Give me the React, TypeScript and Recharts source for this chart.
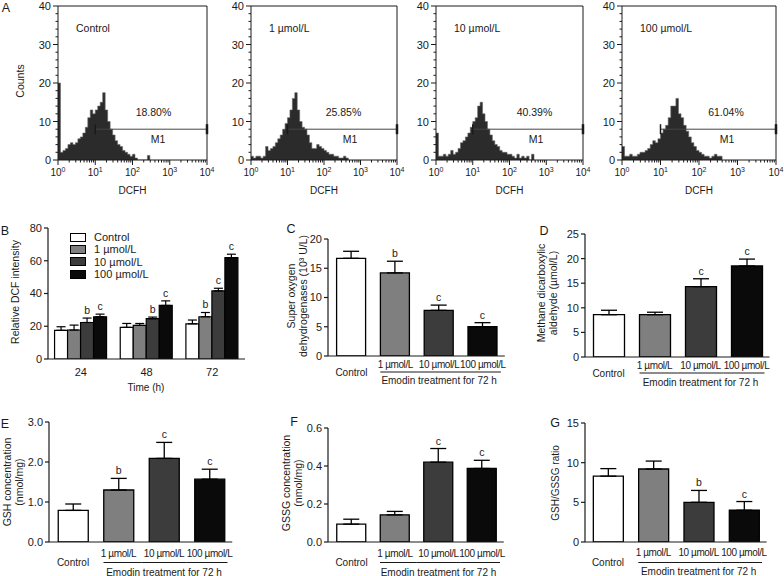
import {
  Area,
  AreaChart,
  Bar,
  BarChart,
  Cell,
  ErrorBar,
  LabelList,
  ReferenceLine,
  XAxis,
  YAxis,
} from "recharts"

const FONT = '"Liberation Sans", Arial, Helvetica, sans-serif'
const INK = "#1a1a1a"

// ---- panel A: DCFH histograms (counts per bin, 15 bins per decade from 10^0)
const BINS_PER_DECADE = 15
const controlCounts = [
  20, 2, 2.5, 3, 4, 4.5, 4, 4.5, 5.5, 6, 7, 8.5, 11, 13, 12, 13, 14, 15, 17.5,
  13, 10, 8, 6.5, 5, 4, 3.5, 2.5, 2, 1.5, 1, 1.5, 0.5, 0, 0, 0, 0, 1.2,
]
const dose1Counts = [
  1, 0.5, 1, 1, 0.5, 1, 3.5, 2.5, 3, 3.5, 4.5, 5.5, 6.5, 8, 9.5, 11, 13, 16,
  17.5, 13, 10, 8.5, 8, 6.5, 4.5, 3, 3, 4, 3.5, 3, 2.5, 2, 1.5, 1.5, 1, 1, 0.5,
  0.5, 1, 0.5,
]
const dose10Counts = [
  7, 1, 1, 1.5, 1, 1.5, 2.5, 1.5, 2, 3, 4.5, 5, 6, 7, 8.5, 10, 11, 14, 15, 12,
  10, 8, 6.5, 5, 4, 3.5, 2.5, 2, 2, 1.5, 1.5, 1, 0.5, 1.5, 0.5, 1, 0.5, 1, 0,
  1.5,
]
const dose100Counts = [
  3.5, 1, 1, 1.5, 1, 1, 1.5, 2, 2, 2.5, 3, 4, 5, 4.5, 5.5, 7, 8, 9, 11, 14, 14,
  16, 12, 11, 9, 7.5, 6, 4.5, 3.5, 2.5, 2, 1.5, 1, 1, 0.5, 1, 1.5, 1, 1,
]
const histCounts = [controlCounts, dose1Counts, dose10Counts, dose100Counts]
const histTitles = ["Control", "1 µmol/L", "10 µmol/L", "100 µmol/L"]
const histPercents = ["18.80%", "25.85%", "40.39%", "61.04%"]
const decades = [0, 1, 2, 3, 4]
const minorMultipliers = [2, 3, 4, 5, 6, 7, 8, 9]
const countTicks = [0, 10, 20, 30, 40]
const gateFrom = 1
const gateTo = 4
const gateLevel = 8

// ---- panels B-G
const treatments = ["Control", "1 µmol/L", "10 µmol/L", "100 µmol/L"]
const doseColors = ["#ffffff", "#7f7f7f", "#3c3c3c", "#0a0a0a"]

const times = ["24", "48", "72"]
const dcfControl = [17.5, 19.3, 21.5]
const dcfControlErr = [2.2, 2.4, 2.3]
const dcfDose1 = [17.7, 20.5, 25.8]
const dcfDose1Err = [3.0, 1.2, 2.6]
const dcfDose10 = [22.3, 24.6, 41.6]
const dcfDose10Err = [2.7, 1.0, 1.6]
const dcfDose100 = [25.8, 32.7, 61.9]
const dcfDose100Err = [1.6, 2.8, 2.1]
const dcfControlSig = ["", "", ""]
const dcfDose1Sig = ["", "", "b"]
const dcfDose10Sig = ["b", "b", "c"]
const dcfDose100Sig = ["c", "c", "c"]
const dcfTicks = [0, 20, 40, 60, 80]

const sodValues = [16.7, 14.2, 7.8, 5.0]
const sodErrors = [1.2, 2.0, 0.9, 0.7]
const sodSig = ["", "b", "c", "c"]
const sodTicks = [0, 5, 10, 15, 20]

const mdaValues = [8.6, 8.6, 14.3, 18.5]
const mdaErrors = [0.9, 0.5, 1.6, 1.4]
const mdaSig = ["", "", "c", "c"]
const mdaTicks = [0, 5, 10, 15, 20, 25]

const gshValues = [0.79, 1.3, 2.09, 1.57]
const gshErrors = [0.16, 0.29, 0.4, 0.25]
const gshSig = ["", "b", "c", "c"]
const gshTicks = [0, 1, 2, 3]

const gssgValues = [0.094, 0.143, 0.42, 0.387]
const gssgErrors = [0.026, 0.018, 0.072, 0.043]
const gssgSig = ["", "", "c", "c"]
const gssgTicks = [0, 0.2, 0.4, 0.6]

const ratioValues = [8.3, 9.2, 5.0, 4.0]
const ratioErrors = [0.95, 1.0, 1.5, 1.1]
const ratioSig = ["", "", "b", "c"]
const ratioTicks = [0, 5, 10, 15]

const logTicks = decades.flatMap((d) =>
  d < 4 ? [d, ...minorMultipliers.map((m) => d + Math.log10(m))] : [d],
)
const countTickList = countTicks.flatMap((t, i) =>
  i < countTicks.length - 1 ? [t, t + 2, t + 4, t + 6, t + 8] : [t],
)

function Note({ x, y, size = 10.5, rotate = false, left = false, children }: any) {
  const transform = left
    ? "translate(0,-50%)"
    : `translate(-50%,-50%)${rotate ? " rotate(-90deg)" : ""}`
  return (
    <div
      style={{
        position: "absolute",
        left: x,
        top: y,
        transform,
        fontSize: size,
        lineHeight: "12px",
        whiteSpace: "nowrap",
        textAlign: "center",
        color: INK,
      }}
    >
      {children}
    </div>
  )
}

function HistXTick({ x, y, payload }: any) {
  const v = payload.value as number
  const major = Math.abs(v - Math.round(v)) < 1e-6
  return (
    <g>
      <line x1={x} x2={x} y1={y} y2={y + (major ? 5 : 2.5)} stroke={INK} />
      {major && (
        <text x={x} y={y + 16} textAnchor="middle" fontSize={10} fill={INK} fontFamily={FONT}>
          <tspan>10</tspan>
          <tspan dy={-4} fontSize={7}>
            {Math.round(v)}
          </tspan>
        </text>
      )}
    </g>
  )
}

function HistYTick({ x, y, payload }: any) {
  const major = payload.value % 10 === 0
  return (
    <g>
      <line x1={x - (major ? 5 : 2.5)} x2={x} y1={y} y2={y} stroke={INK} />
      {major && (
        <text x={x - 7} y={y} dy={4} textAnchor="end" fontSize={11} fill={INK} fontFamily={FONT}>
          {payload.value}
        </text>
      )}
    </g>
  )
}

const HIST_AXIS_W = 30

function Histogram({ index, plotLeft, plotWidth, percentDx, gateDx }: any) {
  const counts = histCounts[index]
  const data = counts.map((c: number, i: number) => ({ x: i / BINS_PER_DECADE, y: c }))
  data.push({ x: counts.length / BINS_PER_DECADE, y: 0 })
  const width = HIST_AXIS_W + plotWidth + 12
  return (
    <>
      <div style={{ position: "absolute", left: plotLeft - HIST_AXIS_W, top: 0, width, height: 180 }}>
        <AreaChart width={width} height={180} data={data} margin={{ top: 6, right: 12, bottom: 0, left: 0 }}>
          <XAxis
            type="number"
            dataKey="x"
            domain={[0, 4]}
            ticks={logTicks}
            interval={0}
            height={20}
            tickSize={0}
            tickMargin={0}
            tickLine={false}
            axisLine={{ stroke: INK }}
            tick={HistXTick}
            allowDataOverflow
          />
          <YAxis
            type="number"
            domain={[0, 40]}
            ticks={countTickList}
            interval={0}
            width={HIST_AXIS_W}
            tickSize={0}
            tickMargin={0}
            tickLine={false}
            axisLine={{ stroke: INK }}
            tick={HistYTick}
            allowDataOverflow
          />
          <Area
            type="stepAfter"
            dataKey="y"
            fill="#2b2b2b"
            fillOpacity={1}
            stroke="#666"
            strokeWidth={0.6}
            dot={false}
            activeDot={false}
            isAnimationActive={false}
          />
          <ReferenceLine y={40} stroke={INK} />
          <ReferenceLine x={4} stroke={INK} />
          <ReferenceLine
            segment={[
              { x: gateFrom, y: gateLevel },
              { x: gateTo, y: gateLevel },
            ]}
            stroke="#444"
          />
          <ReferenceLine
            segment={[
              { x: gateFrom, y: gateLevel - 1.3 },
              { x: gateFrom, y: gateLevel + 1.3 },
            ]}
            stroke={INK}
            strokeWidth={1.5}
          />
          <ReferenceLine
            segment={[
              { x: gateTo, y: gateLevel - 1.3 },
              { x: gateTo, y: gateLevel + 1.3 },
            ]}
            stroke={INK}
            strokeWidth={2.5}
          />
        </AreaChart>
      </div>
      <Note x={plotLeft + 18} y={28} left>
        {histTitles[index]}
      </Note>
      <Note x={plotLeft + percentDx} y={112}>
        {histPercents[index]}
      </Note>
      <Note x={plotLeft + gateDx} y={139}>
        M1
      </Note>
      <Note x={plotLeft + plotWidth / 2} y={191} size={10}>
        DCFH
      </Note>
    </>
  )
}

const Y_W = 34
const X_H = 36

function makeSigLabel(values: number[], errors: number[], sigs: string[]) {
  return (p: any) => {
    const vb = p.viewBox ?? {}
    const x = p.x ?? vb.x
    const y = p.y ?? vb.y
    const w = p.width ?? vb.width
    const h = p.height ?? vb.height
    const i = p.index
    if (!sigs[i]) return null
    const capY = y - errors[i] * (h / values[i])
    return (
      <text x={x + w / 2} y={capY - 4} textAnchor="middle" fontSize={10.5} fill={INK} fontFamily={FONT}>
        {sigs[i]}
      </text>
    )
  }
}

function BarPanel(props: any) {
  const {
    axisX, topY, zeroY, padLeft, band, barSize, capWidth, ticks, decimals,
    values, errors, sigs, labelDy, controlDy, lineDy, emodinDy,
  } = props
  const plotWidth = padLeft + band * treatments.length
  const width = Y_W + plotWidth + 16
  const height = zeroY - topY + 12 + X_H
  const data = treatments.map((name, i) => ({
    name,
    value: values[i],
    err: [0, errors[i]],
    sig: sigs[i],
  }))
  const renderTick = (p: any) => {
    const { x, y, index, payload } = p
    const textProps = { textAnchor: "middle" as const, fill: INK, fontFamily: FONT, fontSize: 10 }
    if (index === 0)
      return (
        <text x={x} y={y + controlDy} dy={3.5} {...textProps}>
          {payload.value}
        </text>
      )
    const from = index === 1 ? x - 15 : x - band / 2
    const to = index === treatments.length - 1 ? x + 18 : x + band / 2
    return (
      <g>
        <text x={x} y={y + labelDy} dy={3.5} letterSpacing={-0.4} {...textProps}>
          {payload.value}
        </text>
        <line x1={from} x2={to} y1={y + lineDy} y2={y + lineDy} stroke={INK} strokeWidth={1.2} />
        {index === 2 && (
          <text x={x} y={y + emodinDy} dy={3.5} {...textProps}>
            Emodin treatment for 72 h
          </text>
        )}
      </g>
    )
  }
  return (
    <div style={{ position: "absolute", left: axisX - Y_W, top: topY - 12, width, height }}>
      <BarChart width={width} height={height} data={data} margin={{ top: 12, right: 16, bottom: 0, left: 0 }}>
        <XAxis
          dataKey="name"
          interval={0}
          height={X_H}
          tickSize={0}
          tickMargin={0}
          tickLine={false}
          padding={{ left: padLeft, right: 0 }}
          axisLine={{ stroke: INK, strokeWidth: 1.2 }}
          tick={renderTick}
        />
        <YAxis
          domain={[0, ticks[ticks.length - 1]]}
          ticks={ticks}
          interval={0}
          width={Y_W}
          tickSize={4}
          tickMargin={2}
          tickFormatter={(v: number) => v.toFixed(decimals)}
          tick={{ fontSize: 11, fill: INK, fontFamily: FONT }}
          axisLine={{ stroke: INK, strokeWidth: 1.2 }}
          tickLine={{ stroke: INK, strokeWidth: 1.2 }}
          allowDataOverflow
        />
        <Bar dataKey="value" barSize={barSize} stroke="#000" strokeWidth={1.3} isAnimationActive={false}>
          {data.map((d, i) => (
            <Cell key={d.name} fill={doseColors[i]} />
          ))}
          <ErrorBar dataKey="err" direction="y" width={capWidth} stroke="#000" strokeWidth={1.3} />
          <LabelList dataKey="sig" content={makeSigLabel(values, errors, sigs)} />
        </Bar>
      </BarChart>
    </div>
  )
}

function DcfPanel() {
  const axisX = 48
  const topY = 228
  const zeroY = 359
  const plotWidth = 197
  const width = Y_W + plotWidth + 12
  const height = zeroY - topY + 12 + 24
  const data = times.map((time, i) => ({
    time,
    control: dcfControl[i],
    controlErr: [0, dcfControlErr[i]],
    dose1: dcfDose1[i],
    dose1Err: [0, dcfDose1Err[i]],
    dose10: dcfDose10[i],
    dose10Err: [0, dcfDose10Err[i]],
    dose100: dcfDose100[i],
    dose100Err: [0, dcfDose100Err[i]],
  }))
  const series = [
    { key: "control", values: dcfControl, errors: dcfControlErr, sigs: dcfControlSig },
    { key: "dose1", values: dcfDose1, errors: dcfDose1Err, sigs: dcfDose1Sig },
    { key: "dose10", values: dcfDose10, errors: dcfDose10Err, sigs: dcfDose10Sig },
    { key: "dose100", values: dcfDose100, errors: dcfDose100Err, sigs: dcfDose100Sig },
  ]
  return (
    <div style={{ position: "absolute", left: axisX - Y_W, top: topY - 12, width, height }}>
      <BarChart
        width={width}
        height={height}
        data={data}
        margin={{ top: 12, right: 12, bottom: 0, left: 0 }}
        barCategoryGap="10%"
        barGap={0}
      >
        <XAxis
          dataKey="time"
          interval={0}
          height={24}
          tickSize={0}
          tickMargin={0}
          tickLine={false}
          axisLine={{ stroke: INK, strokeWidth: 1.2 }}
          tick={({ x, y, payload }: any) => (
            <text x={x} y={y + 13} dy={4} textAnchor="middle" fontSize={11} fill={INK} fontFamily={FONT}>
              {payload.value}
            </text>
          )}
        />
        <YAxis
          domain={[0, 80]}
          ticks={dcfTicks}
          interval={0}
          width={Y_W}
          tickSize={4}
          tickMargin={2}
          tick={{ fontSize: 11, fill: INK, fontFamily: FONT }}
          axisLine={{ stroke: INK, strokeWidth: 1.2 }}
          tickLine={{ stroke: INK, strokeWidth: 1.2 }}
          allowDataOverflow
        />
        {series.map((s, i) => (
          <Bar
            key={s.key}
            dataKey={s.key}
            fill={doseColors[i]}
            stroke="#000"
            strokeWidth={1.2}
            isAnimationActive={false}
          >
            <ErrorBar dataKey={`${s.key}Err`} direction="y" width={4.5} stroke="#000" strokeWidth={1.2} />
            <LabelList dataKey={s.key} content={makeSigLabel(s.values, s.errors, s.sigs)} />
          </Bar>
        ))}
      </BarChart>
    </div>
  )
}

function DcfLegend() {
  return (
    <>
      {treatments.map((name, i) => (
        <div
          key={name}
          style={{
            position: "absolute",
            left: 70,
            top: 237 + i * 12.4,
            transform: "translate(0,-50%)",
            display: "flex",
            alignItems: "center",
            fontSize: 11,
            whiteSpace: "nowrap",
          }}
        >
          <span
            style={{
              display: "inline-block",
              width: 14,
              height: 7,
              background: doseColors[i],
              border: "1px solid #000",
              marginRight: 8,
            }}
          />
          {name}
        </div>
      ))}
    </>
  )
}

const topRowLabels = { labelDy: 8.5, controlDy: 16.5, lineDy: 16, emodinDy: 25 }
const bottomRowLabels = { labelDy: 11, controlDy: 20.5, lineDy: 20.5, emodinDy: 30 }

export default function App() {
  return (
    <div
      style={{
        position: "absolute",
        left: 0,
        top: 0,
        width: 784,
        height: 576,
        overflow: "hidden",
        background: "#fff",
        fontFamily: FONT,
        color: INK,
      }}
    >
      <Histogram index={0} plotLeft={58} plotWidth={149} percentDx={95.5} gateDx={100} />
      <Histogram index={1} plotLeft={251} plotWidth={146} percentDx={92.5} gateDx={99} />
      <Histogram index={2} plotLeft={436} plotWidth={147} percentDx={98.5} gateDx={100} />
      <Histogram index={3} plotLeft={622} plotWidth={154} percentDx={104} gateDx={105} />
      <Note x={20} y={81} rotate>
        Counts
      </Note>

      <DcfPanel />
      <DcfLegend />
      <Note x={15} y={292} rotate>
        Relative DCF intensity
      </Note>
      <Note x={146} y={388} size={10}>
        Time (h)
      </Note>

      <BarPanel
        axisX={328} topY={239} zeroY={356} padLeft={1.6} band={43.8} barSize={29} capWidth={8}
        ticks={sodTicks} decimals={0} values={sodValues} errors={sodErrors} sigs={sodSig}
        {...topRowLabels}
      />
      <Note x={297} y={296} rotate>
        Super oxygen
        <br />
        dehydrogenases (10³ U/L)
      </Note>

      <BarPanel
        axisX={585} topY={234} zeroY={357} padLeft={0.5} band={46} barSize={31} capWidth={8}
        ticks={mdaTicks} decimals={0} values={mdaValues} errors={mdaErrors} sigs={mdaSig}
        {...topRowLabels}
      />
      <Note x={547} y={293} rotate>
        Methane dicarboxylic
        <br />
        aldehyde (µmol/L)
      </Note>

      <BarPanel
        axisX={49} topY={422} zeroY={542} padLeft={1.25} band={45.5} barSize={30} capWidth={8}
        ticks={gshTicks} decimals={1} values={gshValues} errors={gshErrors} sigs={gshSig}
        {...bottomRowLabels}
      />
      <Note x={13} y={482} rotate>
        GSH concentration
        <br />
        (nmol/mg)
      </Note>

      <BarPanel
        axisX={328} topY={428} zeroY={542} padLeft={1.75} band={43.5} barSize={29} capWidth={8}
        ticks={gssgTicks} decimals={1} values={gssgValues} errors={gssgErrors} sigs={gssgSig}
        {...bottomRowLabels}
      />
      <Note x={292} y={483} rotate>
        GSSG concentration
        <br />
        (nmol/mg)
      </Note>

      <BarPanel
        axisX={585} topY={423} zeroY={542} padLeft={0.33} band={45.33} barSize={30} capWidth={8}
        ticks={ratioTicks} decimals={0} values={ratioValues} errors={ratioErrors} sigs={ratioSig}
        {...bottomRowLabels}
      />
      <Note x={556} y={483} rotate size={10}>
        GSH/GSSG ratio
      </Note>

      <Note x={6} y={8} size={12.5}>A</Note>
      <Note x={5} y={231} size={12.5}>B</Note>
      <Note x={291} y={229} size={12.5}>C</Note>
      <Note x={544} y={231} size={12.5}>D</Note>
      <Note x={5} y={424} size={12.5}>E</Note>
      <Note x={294} y={422} size={12.5}>F</Note>
      <Note x={555} y={423} size={12.5}>G</Note>
    </div>
  )
}
